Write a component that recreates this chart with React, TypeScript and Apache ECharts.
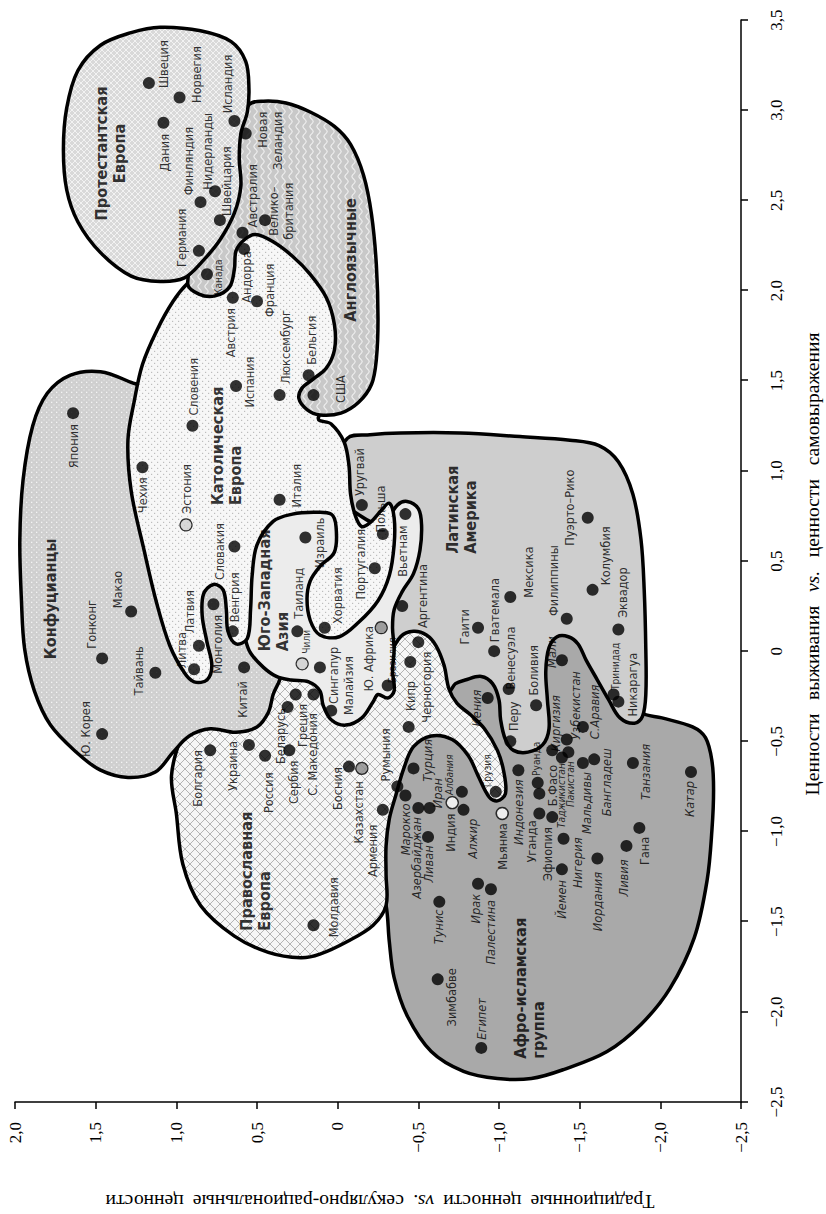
import React, { useEffect, useRef } from "react";
import * as echarts from "echarts";

// Each country: [name, survival(-) / self-expression(+), traditional(-) / secular-rational(+)]
type Pt = [string, number, number];

const protestantEurope: Pt[] = [
  ["Швеция", 3.15, 1.17],
  ["Норвегия", 3.07, 0.98],
  ["Дания", 2.93, 1.08],
  ["Исландия", 2.94, 0.64],
  ["Финляндия", 2.49, 0.85],
  ["Нидерланды", 2.55, 0.76],
  ["Швейцария", 2.39, 0.73],
  ["Германия", 2.22, 0.86],
];
const englishSpeaking: Pt[] = [
  ["Новая\nЗеландия", 2.87, 0.57],
  ["Австралия", 2.32, 0.59],
  ["Велико–\nбритания", 2.39, 0.45],
  ["Канада", 2.09, 0.81],
  ["США", 1.42, 0.15],
];
const catholicEurope: Pt[] = [
  ["Андорра", 2.23, 0.58],
  ["Австрия", 1.96, 0.65],
  ["Франция", 1.94, 0.5],
  ["Испания", 1.47, 0.63],
  ["Люксембург", 1.42, 0.36],
  ["Бельгия", 1.53, 0.18],
  ["Словения", 1.25, 0.9],
  ["Чехия", 1.02, 1.21],
  ["Эстония", 0.7, 0.94],
  ["Словакия", 0.58, 0.64],
  ["Италия", 0.84, 0.36],
  ["Латвия", 0.03, 0.86],
  ["Литва", -0.1, 0.89],
  ["Венгрия", 0.11, 0.65],
  ["Хорватия", 0.13, 0.08],
  ["Португалия", 0.46, -0.23],
  ["Польша", 0.65, -0.28],
];
const confucian: Pt[] = [
  ["Япония", 1.32, 1.64],
  ["Макао", 0.22, 1.28],
  ["Гонконг", -0.04, 1.46],
  ["Тайвань", -0.12, 1.13],
  ["Ю. Корея", -0.46, 1.46],
  ["Монголия", 0.26, 0.77],
  ["Китай", -0.09, 0.58],
];
const southAsia: Pt[] = [
  ["Израиль", 0.63, 0.2],
  ["Таиланд", 0.11, 0.25],
  ["Чили", -0.07, 0.22],
  ["Сингапур", -0.09, 0.11],
  ["Малайзия", -0.33, 0.04],
  ["Ю. Африка", 0.13, -0.27],
  ["Бразилия", -0.19, -0.31],
  ["Вьетнам", 0.76, -0.42],
];
const orthodoxEurope: Pt[] = [
  ["Болгария", -0.55, 0.79],
  ["Украина", -0.52, 0.55],
  ["Россия", -0.58, 0.45],
  ["Сербия", -0.55, 0.3],
  ["Беларусь", -0.31, 0.31],
  ["Греция", -0.24, 0.26],
  ["С. Македония", -0.24, 0.15],
  ["Босния", -0.64, -0.07],
  ["Казахстан", -0.65, -0.15],
  ["Армения", -0.88, -0.28],
  ["Молдавия", -1.52, 0.15],
  ["Румыния", -0.42, -0.44],
  ["Кипр", -0.06, -0.45],
  ["Черногория", 0.05, -0.5],
  ["Грузия", -0.78, -0.98],
];
const latinAmerica: Pt[] = [
  ["Уругвай", 0.81, -0.15],
  ["Аргентина", 0.25, -0.4],
  ["Мексика", 0.3, -1.07],
  ["Гаити", 0.13, -0.87],
  ["Гватемала", 0.0, -0.97],
  ["Венесуэла", -0.21, -1.06],
  ["Боливия", -0.3, -1.23],
  ["Перу", -0.5, -1.07],
  ["Филиппины", 0.18, -1.42],
  ["Пуэрто–Рико", 0.74, -1.55],
  ["Колумбия", 0.34, -1.58],
  ["Эквадор", 0.12, -1.74],
  ["Тринидад", -0.24, -1.71],
  ["Никарагуа", -0.28, -1.74],
];
const afroIslamic: Pt[] = [
  ["Кения", -0.26, -0.93],
  ["Мали", -0.05, -1.39],
  ["Киргизия", -0.55, -1.33],
  ["Узбекистан", -0.49, -1.42],
  ["Таджикистан", -0.59, -1.39],
  ["Пакистан", -0.56, -1.43],
  ["С.Аравия", -0.42, -1.52],
  ["Мальдивы", -0.62, -1.52],
  ["Бангладеш", -0.6, -1.59],
  ["Танзания", -0.62, -1.83],
  ["Катар", -0.67, -2.19],
  ["Гана", -0.98, -1.87],
  ["Ливия", -1.08, -1.79],
  ["Иордания", -1.15, -1.61],
  ["Йемен", -1.21, -1.39],
  ["Нигерия", -1.04, -1.4],
  ["Эфиопия", -0.92, -1.33],
  ["Уганда", -0.9, -1.25],
  ["Б.Фасо", -0.79, -1.25],
  ["Руанда", -0.73, -1.24],
  ["Индонезия", -0.66, -1.12],
  ["Мьянма", -0.9, -1.02],
  ["Индия", -0.84, -0.71],
  ["Алжир", -0.88, -0.78],
  ["Албания", -0.78, -0.77],
  ["Иран", -0.87, -0.57],
  ["Турция", -0.65, -0.47],
  ["Ливан", -1.03, -0.56],
  ["Азербайджан", -0.87, -0.5],
  ["Марокко", -0.8, -0.42],
  ["", -0.75, -0.37],
  ["Ирак", -1.29, -0.87],
  ["Палестина", -1.32, -0.95],
  ["Тунис", -1.39, -0.63],
  ["Зимбабве", -1.82, -0.62],
  ["Египет", -2.2, -0.89],
];

// Cultural-zone outlines, in data units [self-expression, secular]
const afroIslamicOutline = [
  [-1.41, -0.3], [-1.61, -0.32], [-1.81, -0.35], [-2.02, -0.43], [-2.22, -0.58], [-2.33, -0.78],
  [-2.37, -0.99], [-2.37, -1.2], [-2.32, -1.4], [-2.22, -1.67], [-2.07, -1.88], [-1.87, -2.06],
  [-1.59, -2.21], [-1.27, -2.29], [-0.99, -2.32], [-0.77, -2.33], [-0.61, -2.32], [-0.48, -2.28],
  [-0.42, -2.2], [-0.37, -2.01], [-0.34, -1.88], [-0.22, -1.79], [0.28, -1.41], [0.01, -0.82],
  [-0.22, -0.58], [-0.55, -0.39], [-0.83, -0.25], [-1.27, -0.25],
];
const latinOutline = [
  [1.18, -0.06], [1.2, -0.2], [1.21, -0.39], [1.21, -0.76], [1.19, -1.13], [1.17, -1.44],
  [1.14, -1.62], [1.05, -1.74], [0.87, -1.83], [0.62, -1.88], [0.34, -1.9], [0.01, -1.91],
  [-0.24, -1.91], [-0.36, -1.89], [-0.4, -1.84], [-0.37, -1.75], [-0.27, -1.68], [-0.16, -1.61],
  [-0.05, -1.54], [0.04, -1.49], [0.08, -1.43], [0.08, -1.36], [0.02, -1.31], [-0.11, -1.29],
  [-0.27, -1.3], [-0.43, -1.31], [-0.52, -1.27], [-0.56, -1.18], [-0.55, -1.09], [-0.49, -1.04],
  [-0.38, -1.01], [-0.27, -1.0], [-0.18, -0.96], [-0.14, -0.89], [-0.16, -0.79], [-0.18, -0.73],
  [-0.22, -0.69], [-0.05, -0.58], [0.06, -0.3], [0.51, -0.2], [1.01, 0.01],
];
const orthodoxOutline = [
  [-0.69, 1.03], [-0.9, 1.0], [-1.18, 0.96], [-1.41, 0.85], [-1.58, 0.64], [-1.67, 0.43],
  [-1.7, 0.23], [-1.68, 0.11], [-1.61, -0.06], [-1.52, -0.22], [-1.41, -0.3], [-1.24, -0.3],
  [-1.08, -0.3], [-0.93, -0.32], [-0.8, -0.36], [-0.65, -0.41], [-0.53, -0.47], [-0.47, -0.58],
  [-0.49, -0.71], [-0.58, -0.81], [-0.69, -0.87], [-0.81, -0.94], [-0.83, -0.99], [-0.79, -1.04],
  [-0.67, -1.03], [-0.55, -0.99], [-0.43, -0.91], [-0.35, -0.82], [-0.29, -0.74], [-0.21, -0.69],
  [-0.08, -0.66], [0.03, -0.61], [0.09, -0.55], [0.11, -0.47], [0.08, -0.39], [-0.05, -0.3],
  [-0.27, -0.08], [-0.12, 0.23], [-0.08, 0.45], [-0.38, 0.6], [-0.41, 0.91], [-0.48, 0.97],
];
const confucianOutline = [
  [1.49, 1.28], [1.55, 1.47], [1.53, 1.66], [1.43, 1.8], [1.25, 1.89], [0.95, 1.95], [0.62, 1.97],
  [0.28, 1.96], [0.01, 1.94], [-0.22, 1.88], [-0.41, 1.78], [-0.56, 1.62], [-0.66, 1.47],
  [-0.7, 1.3], [-0.67, 1.13], [-0.56, 1.02], [-0.47, 0.92], [-0.43, 0.79], [-0.45, 0.63],
  [-0.42, 0.5], [-0.34, 0.43], [-0.24, 0.4], [-0.12, 0.35], [-0.05, 0.42], [0.28, 0.6],
  [0.51, 0.85], [1.12, 1.16], [1.45, 1.19],
];
const southAsiaOutline = [
  [0.06, 0.57], [-0.01, 0.54], [-0.09, 0.46], [-0.14, 0.38], [-0.16, 0.29], [-0.17, 0.18],
  [-0.22, 0.11], [-0.3, 0.09], [-0.38, 0.04], [-0.41, -0.05], [-0.37, -0.15], [-0.28, -0.22],
  [-0.24, -0.25], [-0.26, -0.31], [-0.22, -0.35], [-0.11, -0.34], [0.01, -0.35], [0.13, -0.34],
  [0.23, -0.35], [0.33, -0.4], [0.43, -0.47], [0.56, -0.51], [0.7, -0.52], [0.79, -0.5],
  [0.83, -0.43], [0.81, -0.37], [0.7, -0.27], [0.81, -0.02], [0.84, 0.23], [0.74, 0.46],
  [0.51, 0.57], [0.17, 0.59],
];
const catholicOutline = [
  [2.04, 0.93], [1.94, 1.02], [1.78, 1.12], [1.59, 1.21], [1.39, 1.26], [1.17, 1.3], [0.89, 1.28],
  [0.56, 1.2], [0.26, 1.12], [0.03, 1.04], [-0.12, 0.95], [-0.17, 0.89], [-0.16, 0.81],
  [-0.08, 0.78], [0.05, 0.81], [0.2, 0.84], [0.32, 0.83], [0.37, 0.77], [0.34, 0.71], [0.23, 0.69],
  [0.11, 0.68], [0.04, 0.63], [0.07, 0.56], [0.23, 0.54], [0.42, 0.53], [0.59, 0.5], [0.72, 0.4],
  [0.76, 0.28], [0.77, 0.15], [0.76, 0.04], [0.69, 0.01], [0.55, 0.02], [0.47, 0.11], [0.39, 0.17],
  [0.29, 0.19], [0.17, 0.17], [0.09, 0.11], [0.08, -0.01], [0.16, -0.13], [0.28, -0.25],
  [0.42, -0.32], [0.59, -0.35], [0.74, -0.35], [0.82, -0.32], [0.78, -0.27], [0.72, -0.21],
  [0.69, -0.15], [0.75, -0.11], [0.87, -0.08], [1.03, -0.07], [1.16, -0.04], [1.26, 0.04],
  [1.29, 0.12], [1.51, 0.01], [1.78, -0.02], [2.06, 0.07], [2.26, 0.32], [2.33, 0.54], [2.14, 0.79],
];
const angloOutline = [
  [3.03, 0.55], [3.05, 0.46], [3.04, 0.32], [2.99, 0.17], [2.91, 0.02], [2.81, -0.08], [2.64, -0.16],
  [2.42, -0.21], [2.14, -0.24], [1.84, -0.25], [1.62, -0.24], [1.48, -0.21], [1.38, -0.13],
  [1.32, -0.02], [1.31, 0.11], [1.34, 0.19], [1.4, 0.24], [1.46, 0.22], [1.51, 0.15], [1.57, 0.07],
  [1.67, 0.02], [1.81, 0.02], [1.96, 0.07], [2.09, 0.17], [2.19, 0.28], [2.27, 0.4], [2.31, 0.51],
  [2.28, 0.58], [2.22, 0.63], [2.12, 0.64], [2.02, 0.67], [1.97, 0.76], [1.98, 0.86], [2.04, 0.93],
  [2.34, 0.85], [2.78, 0.69],
];
const protestantOutline = [
  [3.46, 1.1], [3.44, 0.85], [3.38, 0.66], [3.27, 0.57], [3.12, 0.55], [2.99, 0.56], [2.87, 0.6],
  [2.73, 0.61], [2.58, 0.6], [2.43, 0.64], [2.28, 0.73], [2.16, 0.84], [2.07, 0.95], [2.05, 1.1],
  [2.08, 1.28], [2.21, 1.47], [2.38, 1.61], [2.56, 1.68], [2.78, 1.7], [3.01, 1.68], [3.22, 1.61],
  [3.36, 1.47], [3.43, 1.28],
];

// Zone captions (data units)
const zoneNames = [
  "Протестантская\nЕвропа",
  "Англоязычные",
  "Католическая\nЕвропа",
  "Конфуцианцы",
  "Юго-Западная\nАзия",
  "Латинская\nАмерика",
  "Православная\nЕвропа",
  "Афро-исламская\nгруппа",
];
const zoneCaptionAt = [
  [2.76, 1.41], [2.17, -0.08], [0.81, 0.69], [0.29, 1.78],
  [0.0, 0.4], [0.54, -0.77], [-1.55, 0.51], [-2.26, -1.19],
];
const zoneCaptionAlign = ["center", "center", "left", "center", "left", "left", "left", "left"];

const xTicks = { min: -2.5, max: 3.5, step: 0.5 };
const yTicks = { min: -2.5, max: 2.0, step: 0.5 };
const xTitleWords = ["Ценности", "выживания", "vs.", "ценности", "самовыражения"];
const yTitleWords = ["Традиционные", "ценности", "vs.", "секулярно-рациональные", "ценности"];

// label placement relative to the dot (px in the unrotated chart): [dx, dy, align?]
const labelLayout: Record<string, [number, number, string?]> = {
  "Швеция": [19, 15], "Норвегия": [23, 17], "Исландия": [37, -7], "Новая\nЗеландия": [22, 24, "right"],
  "Дания": [-30, 1], "Финляндия": [41, -12], "Нидерланды": [40, -8], "Швейцария": [39, 7],
  "Германия": [13, -17], "Австралия": [37, 10], "Велико–\nбритания": [9, 16], "Канада": [-3, 12],
  "Андорра": [-28, 2], "Австрия": [-35, -2], "Франция": [11, 12], "Испания": [4, 13],
  "Люксембург": [48, 6], "Словения": [39, 1], "Бельгия": [35, 3], "США": [6, 27],
  "Япония": [-33, 0], "Чехия": [-28, 0], "Эстония": [36, 0], "Словакия": [-5, -15],
  "Италия": [14, 17], "Макао": [22, -14], "Гонконг": [34, -11], "Тайвань": [2, -17],
  "Ю. Корея": [5, -17], "Литва": [19, -13], "Латвия": [34, -9], "Монголия": [-40, 4],
  "Венгрия": [34, 2], "Китай": [-32, -2], "Израиль": [-5, 14], "Таиланд": [38, 1],
  "Хорватия": [32, 13], "Португалия": [4, -14], "Польша": [25, -2], "Уругвай": [33, -2],
  "Вьетнам": [-37, -3], "Аргентина": [10, 20], "Ю. Африка": [-31, -13], "Чили": [22, 4],
  "Сингапур": [-8, 14], "Малайзия": [25, 17], "Бразилия": [25, 5], "Черногория": [-45, 8],
  "Кипр": [-34, 0], "Румыния": [-28, -23], "Болгария": [-28, -13], "Украина": [-21, -16],
  "Россия": [-37, 3], "Сербия": [-32, 4], "Беларусь": [-29, -7], "Греция": [-31, 7],
  "С. Македония": [-60, -1], "Босния": [-22, -11], "Казахстан": [-44, -3], "Армения": [-41, -10],
  "Молдавия": [18, 20], "Грузия": [21, -8], "Кения": [-10, -11], "Перу": [25, 3],
  "Боливия": [35, -3], "Венесуэла": [31, 2], "Гватемала": [41, 0], "Гаити": [1, -14],
  "Мексика": [25, 18], "Филиппины": [38, -13], "Пуэрто–Рико": [10, -18], "Колумбия": [34, 13],
  "Эквадор": [37, 4], "Тринидад": [28, 2], "Никарагуа": [17, 14], "Мали": [8, -10],
  "Киргизия": [27, 3], "Узбекистан": [34, 9], "Таджикистан": [-38, 0], "Пакистан": [-32, 2],
  "С.Аравия": [15, 12], "Мальдивы": [-40, 4], "Бангладеш": [-23, 12], "Танзания": [-9, 13],
  "Катар": [-27, -1], "Гана": [-23, 5], "Ливия": [-32, -3], "Иордания": [-43, 0],
  "Йемен": [-30, 0], "Нигерия": [-24, 14], "Эфиопия": [-37, -5], "Уганда": [-28, -8],
  "Б.Фасо": [8, 13], "Руанда": [24, -1], "Индонезия": [-42, 0], "Мьянма": [-33, 0],
  "Индия": [-30, -2], "Алжир": [-29, 9], "Албания": [17, -12], "Иран": [15, 8],
  "Турция": [8, 14], "Ливан": [-27, 0], "Азербайджан": [-50, -2], "Марокко": [-34, 0],
  "Ирак": [-25, -3], "Палестина": [-43, 0], "Тунис": [-25, -1], "Зимбабве": [-18, 14],
  "Египет": [29, 0],
};

const italicLabels = new Set([
  "Марокко", "Азербайджан", "Ливан", "Турция", "Иран", "Албания", "Алжир", "Индонезия", "Ирак",
  "Палестина", "Тунис", "Египет", "Нигерия", "Йемен", "Иордания", "Ливия", "Мальдивы", "Бангладеш",
  "Пакистан", "Таджикистан", "Киргизия", "Узбекистан", "С.Аравия", "Мали", "Катар", "Танзания", "Кения",
]);
const smallLabels = new Set([
  "Албания", "Грузия", "Руанда", "Таджикистан", "Пакистан", "Тринидад", "Бразилия", "Чили", "Канада",
]);
const lightDots = new Set(["Эстония", "Чили"]);
const greyDots = new Set(["Ю. Африка", "Казахстан"]);
const openDots = new Set(["Индия", "Мьянма"]);

const zoneOutlines = [
  afroIslamicOutline, latinOutline, orthodoxOutline, confucianOutline,
  southAsiaOutline, catholicOutline, angloOutline, protestantOutline,
];

// ---------- font helpers ----------
function textWidth(font: string, text: string) {
  const ctx = document.createElement("canvas").getContext("2d")!;
  ctx.font = font;
  return ctx.measureText(text).width;
}
function hasFont(fam: string) {
  const probe = "Протестантская Europe 0123 wwmmll";
  return ["monospace", "serif", "sans-serif"].some(
    (fb) => Math.abs(textWidth(`20px '${fam}', ${fb}`, probe) - textWidth(`20px ${fb}`, probe)) > 0.5
  );
}
function pickFont(cands: string[], fallback: string) {
  for (const c of cands) if (hasFont(c)) return `'${c}'`;
  return fallback;
}
const clamp = (v: number, a: number, b: number) => Math.max(a, Math.min(b, v));

// ---------- pattern tiles ----------
function tile(w: number, h: number, bg: string, draw: (c: CanvasRenderingContext2D) => void) {
  const cv = document.createElement("canvas");
  cv.width = w;
  cv.height = h;
  const c = cv.getContext("2d")!;
  c.fillStyle = bg;
  c.fillRect(0, 0, w, h);
  draw(c);
  return { image: cv.toDataURL(), repeat: "repeat", imageWidth: w, imageHeight: h };
}

function makeFills() {
  const protestant = tile(6, 6, "#d9d9d9", (c) => {
    c.strokeStyle = "#f2f2f2";
    c.lineWidth = 1;
    c.beginPath();
    c.moveTo(0, 0); c.lineTo(6, 6);
    c.moveTo(6, 0); c.lineTo(0, 6);
    c.stroke();
  });
  const anglo = tile(10, 7, "#c8c8c8", (c) => {
    c.strokeStyle = "#f0f0f0";
    c.lineWidth = 1.1;
    c.beginPath();
    for (let x = 0; x <= 10; x += 0.5) {
      const y = 3.5 + 1.6 * Math.sin((x / 10) * Math.PI * 2);
      if (x === 0) c.moveTo(x, y); else c.lineTo(x, y);
    }
    c.stroke();
  });
  const catholic = tile(6, 6, "#f7f7f7", (c) => {
    c.fillStyle = "#bdbdbd";
    c.fillRect(1, 1, 1.2, 1.2);
    c.fillRect(4, 4, 1.2, 1.2);
  });
  const confucian = tile(5, 5, "#cfcfcf", (c) => {
    c.fillStyle = "#f4f4f4";
    c.fillRect(1, 1, 1.3, 1.3);
    c.fillRect(3.5, 3.5, 1.0, 1.0);
  });
  const orthodox = tile(10, 10, "#f6f6f6", (c) => {
    c.strokeStyle = "#b4b4b4";
    c.lineWidth = 1;
    c.beginPath();
    c.moveTo(0, 0); c.lineTo(10, 10);
    c.moveTo(10, 0); c.lineTo(0, 10);
    c.stroke();
  });
  // order: afro, latin, orthodox, confucian, south asia, catholic, anglo, protestant
  return ["#a9a9a9", "#cecece", orthodox, confucian, "#ececec", catholic, anglo, protestant];
}

function fmt(v: number) {
  if (Math.abs(v) < 1e-9) return "0";
  return v.toFixed(1).replace(".", ",").replace("-", "−");
}

function buildOption() {
  const labelFam = pickFont(
    [
      "Liberation Sans Narrow", "Arial Narrow", "DejaVu Sans Condensed", "Roboto Condensed",
      "Noto Sans Condensed", "Noto Sans SemiCondensed", "Open Sans Condensed", "Roboto",
      "Liberation Sans", "Noto Sans",
    ],
    "sans-serif"
  );
  const serifFam = pickFont(["Liberation Serif", "Times New Roman", "Tinos", "DejaVu Serif"], "serif");

  const labelSize = clamp((15 * 74) / textWidth(`15px ${labelFam}`, "Люксембург"), 11, 16);
  const smallSize = labelSize * 0.8;
  const boldSize = clamp((19 * 134) / textWidth(`bold 19px ${labelFam}`, "Протестантская"), 14, 21);
  const tickSize = clamp((17 * 21.25) / textWidth(`17px ${serifFam}`, "0,5"), 13, 18);

  const yLettersW20 = textWidth(`20px ${serifFam}`, yTitleWords.join(""));
  const titleSize = clamp((20 * 514) / yLettersW20, 14, 21);
  const xLettersW = textWidth(`${titleSize}px ${serifFam}`, xTitleWords.join(""));
  const yLettersW = textWidth(`${titleSize}px ${serifFam}`, yTitleWords.join(""));
  const xGap = Math.max(5, (464 - xLettersW) / 4);
  const yGap = Math.max(5, (550 - yLettersW) / 4);

  const fills = makeFills();

  const groups = [protestantEurope, englishSpeaking, catholicEurope, confucian, southAsia, orthodoxEurope, latinAmerica, afroIslamic];
  const countryData = groups.flat().map(([name, s, t]) => {
    const lay = labelLayout[name] || [0, 0];
    let color = "#000";
    let borderWidth = 0;
    if (lightDots.has(name)) { color = "#cfcfcf"; borderWidth = 1.2; }
    if (greyDots.has(name)) { color = "#8a8a8a"; borderWidth = 1.2; }
    if (openDots.has(name)) { color = "#ffffff"; borderWidth = 1.4; }
    return {
      name,
      value: [s, t],
      itemStyle: { color, borderColor: "#000", borderWidth },
      label: {
        show: name !== "",
        formatter: name,
        position: "inside",
        offset: [lay[0], lay[1]],
        align: lay[2] || "center",
        verticalAlign: "middle",
        color: "#000",
        textBorderWidth: 0,
        fontFamily: labelFam,
        fontSize: smallLabels.has(name) ? smallSize : labelSize,
        fontStyle: italicLabels.has(name) ? "italic" : "normal",
        lineHeight: 15,
      },
    };
  });

  const zoneCaptionData = zoneNames.map((n, i) => ({
    value: zoneCaptionAt[i],
    label: {
      show: true,
      formatter: n,
      position: "inside",
      align: zoneCaptionAlign[i],
      verticalAlign: "middle",
      color: "#000",
      textBorderWidth: 0,
      fontFamily: labelFam,
      fontWeight: "bold",
      fontSize: boldSize,
      lineHeight: 18,
    },
  }));

  const axisCommon = {
    type: "value",
    axisLine: { show: true, onZero: false, lineStyle: { color: "#000", width: 1.5 } },
    axisTick: { show: true, inside: false, length: 7, lineStyle: { color: "#000", width: 1.5 } },
    splitLine: { show: false },
    axisLabel: {
      formatter: fmt,
      color: "#000",
      fontFamily: serifFam,
      fontSize: tickSize,
      showMinLabel: true,
      showMaxLabel: true,
    },
  };

  const rich = {
    n: { fontFamily: serifFam, fontSize: titleSize, fill: "#000" },
    i: { fontFamily: serifFam, fontSize: titleSize, fontStyle: "italic", fill: "#000" },
    gx: { width: xGap, fontSize: titleSize },
    gy: { width: yGap, fontSize: titleSize },
  };
  const titleText = (words: string[], gap: string) =>
    words.map((w) => (w === "vs." ? `{i|${w}}` : `{n|${w}}`)).join(`{${gap}| }`);

  return {
    animation: false,
    backgroundColor: "#fff",
    grid: { left: 112, right: 20, top: 15, bottom: 85, containLabel: false },
    xAxis: {
      ...axisCommon,
      min: xTicks.min,
      max: xTicks.max,
      interval: xTicks.step,
      axisLabel: { ...axisCommon.axisLabel, margin: 27 },
    },
    yAxis: {
      ...axisCommon,
      min: yTicks.min,
      max: yTicks.max,
      interval: yTicks.step,
      axisLabel: { ...axisCommon.axisLabel, margin: 20 },
    },
    graphic: [
      {
        type: "text",
        x: 650,
        y: 812,
        silent: true,
        style: {
          text: titleText(xTitleWords, "gx"),
          rich,
          align: "center",
          verticalAlign: "middle",
          fontSize: titleSize,
          fontFamily: serifFam,
          fill: "#000",
        },
      },
      {
        type: "text",
        x: 13,
        y: 380,
        rotation: Math.PI / 2,
        silent: true,
        style: {
          text: titleText(yTitleWords, "gy"),
          rich,
          align: "center",
          verticalAlign: "middle",
          fontSize: titleSize,
          fontFamily: serifFam,
          fill: "#000",
        },
      },
    ],
    series: [
      {
        type: "custom",
        z: 1,
        silent: true,
        clip: false,
        data: zoneOutlines.map((_, i) => [i]),
        renderItem: (params: any, api: any) => {
          const idx = params.dataIndex;
          const pts = zoneOutlines[idx].map((p) => api.coord(p));
          return {
            type: "polygon",
            shape: { points: pts, smooth: 0.35 },
            style: { fill: fills[idx], stroke: "#000", lineWidth: 3.5, lineJoin: "round" },
          };
        },
      },
      {
        type: "scatter",
        z: 3,
        silent: true,
        symbol: "circle",
        symbolSize: 12,
        data: countryData,
      },
      {
        type: "scatter",
        z: 4,
        silent: true,
        symbolSize: 0,
        data: zoneCaptionData,
      },
    ],
  };
}

export default function App() {
  const ref = useRef<HTMLDivElement>(null);
  useEffect(() => {
    if (!ref.current) return;
    const chart = echarts.init(ref.current, null, { renderer: "svg", width: 1214, height: 826 });
    chart.setOption(buildOption() as any);
    return () => chart.dispose();
  }, []);
  return (
    <div style={{ position: "fixed", left: 0, top: 0, width: 826, height: 1214, overflow: "hidden", background: "#fff" }}>
      <div
        ref={ref}
        style={{
          position: "absolute",
          left: 0,
          top: 0,
          width: 1214,
          height: 826,
          transformOrigin: "0 0",
          transform: "translate(0px, 1214px) rotate(-90deg)",
        }}
      />
    </div>
  );
}
